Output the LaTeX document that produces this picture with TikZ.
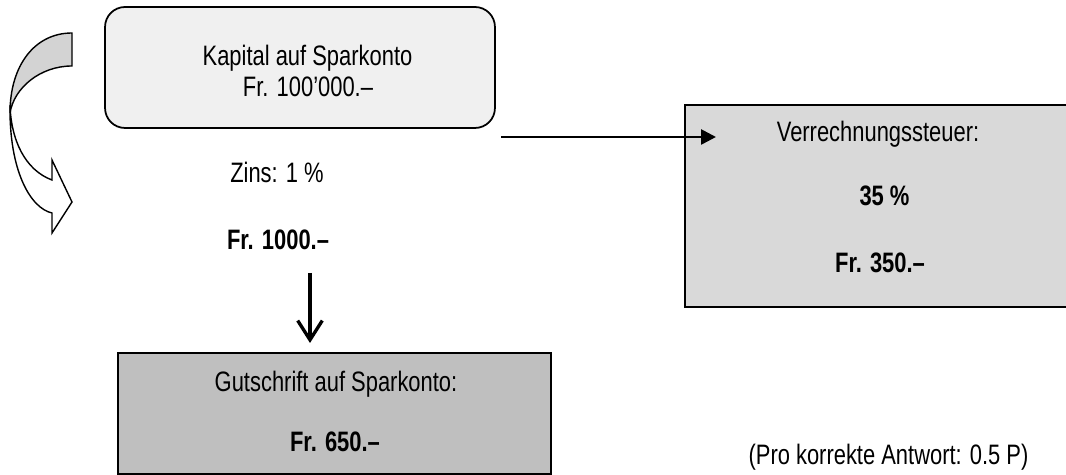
\documentclass[tikz,border=0pt]{standalone}
\usepackage{fontspec}
\setmainfont{Liberation Sans}[FakeStretch=0.78]
\usetikzlibrary{arrows.meta}
\definecolor{kapitalfill}{HTML}{F0F0F0}
\definecolor{steuerfill}{HTML}{D9D9D9}
\definecolor{gutfill}{HTML}{BFBFBF}
\definecolor{bogenfill}{HTML}{D3D3D3}
\tikzset{
every node/.style={font=\fontsize{16}{18}\selectfont}, % common text size
txt/.style={anchor=base, inner sep=0pt}, % text set on its baseline
box/.style={draw, line width=1pt, inner sep=0pt}, % frame of a box
flow/.style={line width=1.5pt, -{Triangle[length=8.5pt,width=8.5pt]}}, % arrow to the tax box
down/.style={line width=1.9pt, -{Straight Barb[length=11pt,width=14pt]}}, % arrow to the credit box
}
\begin{document}
\begin{tikzpicture}[x=0.02cm, y=-0.02cm]
            \useasboundingbox (0,0) rectangle (1066,475);
            % curved arrow on the left
            \draw[line width=0.8pt, fill=bogenfill]
                (72,33) .. controls (35,33) and (10,65) .. (10,113)
                .. controls (14,88) and (40,66) .. (72,66) -- cycle;
            \draw[line width=0.8pt, fill=white]
                (10,105) .. controls (9,170) and (30,208) .. (52,213)
                -- (52,233) -- (72,202) -- (52,160) -- (52,180)
                .. controls (25,170) and (11,140) .. (10,105) -- cycle;
            % boxes
            \node[box, rounded corners=0.4cm, fill=kapitalfill, minimum width=7.8cm, minimum height=2.42cm] (kapital) at (300,67.5) {};
            \node[box, fill=steuerfill, minimum width=7.8cm, minimum height=4.04cm] (steuer) at (880,206) {};
            \node[box, fill=gutfill, minimum width=8.66cm, minimum height=2.42cm] (gut) at (334.5,413.5) {};
            % texts
            \node[txt] (kap1) at (307.5,66) {Kapital auf Sparkonto};
            \node[txt] (kap2) at (308,97) {Fr. 100’000.–};
            \node[txt] (zins) at (277,183) {Zins: 1 \%};
            \node[txt] (fr1000) at (278,250) {\textbf{Fr. 1000.–}};
            \node[txt] (vst) at (878,142) {Verrechnungssteuer:};
            \node[txt] (satz) at (884.5,206) {\textbf{35 \%}};
            \node[txt] (fr350) at (880,273) {\textbf{Fr. 350.–}};
            \node[txt] (gut1) at (336,392) {Gutschrift auf Sparkonto:};
            \node[txt] (fr650) at (335,452) {\textbf{Fr. 650.–}};
            \node[txt] (punkte) at (888.5,465) {(Pro korrekte Antwort: 0.5 P)};
            % connectors
            \coordinate (vstart) at (501,137);
            \coordinate (vend) at (716,137);
            \coordinate (gstart) at (310,273);
            \coordinate (gend) at (310,343);
            \draw[flow] (vstart) -- (vend);
            \draw[down] (gstart) -- (gend);
        \end{tikzpicture}
\end{document}
